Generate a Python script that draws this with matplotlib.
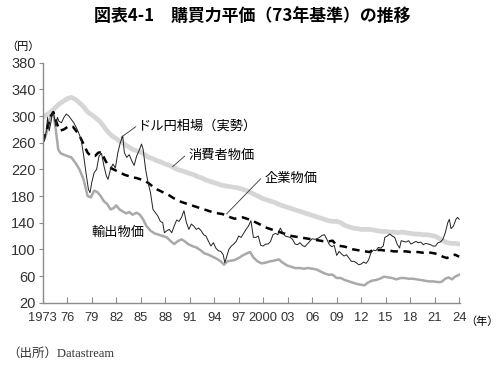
#!/usr/bin/env python3
"""購買力平価（73年基準）の推移 chart."""

import matplotlib

matplotlib.use("Agg")
import matplotlib.pyplot as plt

plt.rcParams["font.family"] = ["Noto Sans CJK JP", "DejaVu Sans"]

# 消費者物価ベース
cpi_years = [1973.0, 1973.5, 1974.0, 1974.5, 1975.0, 1975.5, 1976.0, 1976.5, 1977.0, 1977.5,
             1978.0, 1978.5, 1979.0, 1979.5, 1980.0, 1980.5, 1981.0, 1981.5, 1982.0, 1982.5,
             1983.0, 1983.5, 1984.0, 1984.5, 1985.0, 1985.5, 1986.0, 1986.5, 1987.0, 1987.5,
             1988.0, 1988.5, 1989.0, 1989.5, 1990.0, 1990.5, 1991.0, 1991.5, 1992.0, 1992.5,
             1993.0, 1993.5, 1994.0, 1994.5, 1995.0, 1995.5, 1996.0, 1996.5, 1997.0, 1997.5,
             1998.0, 1998.5, 1999.0, 1999.5, 2000.0, 2000.5, 2001.0, 2001.5, 2002.0, 2002.5,
             2003.0, 2003.5, 2004.0, 2004.5, 2005.0, 2005.5, 2006.0, 2006.5, 2007.0, 2007.5,
             2008.0, 2008.5, 2009.0, 2009.5, 2010.0, 2010.5, 2011.0, 2011.5, 2012.0, 2012.5,
             2013.0, 2013.5, 2014.0, 2014.5, 2015.0, 2015.5, 2016.0, 2016.5, 2017.0, 2017.5,
             2018.0, 2018.5, 2019.0, 2019.5, 2020.0, 2020.5, 2021.0, 2021.5, 2022.0, 2022.5,
             2023.0, 2023.5, 2024.0]
cpi_values = [298, 302, 306, 312, 318, 322, 326, 328, 325, 320,
              314, 306, 302, 297, 292, 284, 276, 270, 266, 262,
              258, 254, 250, 248, 246, 242, 238, 236, 233, 231,
              228, 226, 223, 220, 218, 216, 214, 212, 209, 207,
              204, 202, 200, 198, 196, 195, 194, 193, 192, 190,
              188, 185, 182, 179, 176, 174, 172, 170, 167, 165,
              163, 161, 159, 157, 155, 153, 151, 149, 147, 145,
              143, 142, 142, 140, 136, 134, 132, 131, 130, 130,
              130, 129, 128, 127, 127, 126, 126, 125, 126, 125,
              124, 123, 123, 122, 122, 121, 120, 117, 113, 110,
              109, 109, 108]

# 企業物価ベース
cgpi_years = [1973.0, 1973.5, 1974.0, 1974.3, 1974.7, 1975.1, 1975.6, 1976.2, 1976.7, 1977.2,
              1977.6, 1978.0, 1978.5, 1978.9, 1979.4, 1979.8, 1980.2, 1980.6, 1981.0, 1981.5,
              1982.0, 1982.5, 1983.0, 1983.5, 1984.0, 1984.5, 1985.0, 1985.5, 1986.0, 1986.5,
              1987.0, 1987.5, 1988.0, 1988.5, 1989.0, 1989.5, 1990.0, 1990.5, 1991.0, 1991.5,
              1992.0, 1992.5, 1993.0, 1993.5, 1994.0, 1994.5, 1995.0, 1995.5, 1996.0, 1996.5,
              1997.0, 1997.5, 1998.0, 1998.5, 1999.0, 1999.5, 2000.0, 2000.5, 2001.0, 2001.5,
              2002.0, 2002.5, 2003.0, 2003.5, 2004.0, 2004.5, 2005.0, 2005.5, 2006.0, 2006.5,
              2007.0, 2007.5, 2008.0, 2008.5, 2009.0, 2009.5, 2010.0, 2010.5, 2011.0, 2011.5,
              2012.0, 2012.5, 2013.0, 2013.3, 2013.7, 2014.0, 2014.5, 2015.0, 2015.5, 2016.0,
              2016.5, 2017.0, 2017.5, 2018.0, 2018.5, 2019.0, 2019.5, 2020.0, 2020.5, 2021.0,
              2021.5, 2022.0, 2022.5, 2023.0, 2023.5, 2024.0]
cgpi_values = [262, 280, 300, 306, 290, 278, 280, 285, 284, 276,
               268, 258, 245, 240, 240, 245, 246, 235, 226, 221,
               218, 215, 212, 210, 208, 207, 205, 203, 199, 194,
               190, 187, 184, 181, 177, 174, 171, 169, 167, 165,
               163, 161, 159, 157, 155, 154, 153, 151, 148, 146,
               147, 148, 146, 144, 141, 138, 135, 132, 130, 128,
               126, 124, 122, 120, 119, 118, 117, 116, 115, 114,
               113, 112, 112, 113, 106, 105, 104, 102, 100, 99,
               98, 97, 96, 98, 99, 99, 99, 98, 98, 97,
               97, 97, 97, 96, 96, 96, 95, 96, 95, 94,
               92, 89, 87, 90, 92, 89]

# ドル円相場（実勢）
yen_years = [1973.0, 1973.2, 1973.4, 1973.6, 1973.8, 1974.0, 1974.2, 1974.4, 1974.6, 1974.8,
             1975.0, 1975.3, 1975.6, 1975.9, 1976.2, 1976.5, 1976.8, 1977.1, 1977.4, 1977.7,
             1978.0, 1978.3, 1978.6, 1978.8, 1979.0, 1979.3, 1979.6, 1979.9, 1980.2, 1980.5,
             1980.8, 1981.0, 1981.3, 1981.6, 1981.9, 1982.2, 1982.5, 1982.8, 1983.0, 1983.3,
             1983.6, 1983.9, 1984.2, 1984.5, 1984.8, 1985.1, 1985.3, 1985.6, 1985.9, 1986.2,
             1986.5, 1986.8, 1987.1, 1987.4, 1987.7, 1987.9, 1988.2, 1988.5, 1988.8, 1989.1,
             1989.4, 1989.7, 1990.0, 1990.3, 1990.6, 1990.9, 1991.2, 1991.5, 1991.8, 1992.1,
             1992.4, 1992.7, 1993.0, 1993.3, 1993.6, 1993.9, 1994.2, 1994.5, 1994.8, 1995.1,
             1995.3, 1995.5, 1995.8, 1996.1, 1996.4, 1996.7, 1997.0, 1997.3, 1997.6, 1997.9,
             1998.2, 1998.5, 1998.8, 1999.1, 1999.4, 1999.7, 2000.0, 2000.3, 2000.6, 2000.9,
             2001.2, 2001.5, 2001.8, 2002.1, 2002.4, 2002.7, 2003.0, 2003.3, 2003.6, 2003.9,
             2004.2, 2004.5, 2004.8, 2005.1, 2005.4, 2005.7, 2006.0, 2006.3, 2006.6, 2006.9,
             2007.2, 2007.5, 2007.8, 2008.1, 2008.4, 2008.7, 2009.0, 2009.3, 2009.6, 2009.9,
             2010.2, 2010.5, 2010.8, 2011.1, 2011.4, 2011.7, 2012.0, 2012.3, 2012.6, 2012.9,
             2013.2, 2013.5, 2013.8, 2014.1, 2014.4, 2014.7, 2014.9, 2015.2, 2015.5, 2015.8,
             2016.1, 2016.4, 2016.7, 2016.9, 2017.2, 2017.5, 2017.8, 2018.1, 2018.4, 2018.7,
             2019.0, 2019.3, 2019.6, 2019.9, 2020.2, 2020.5, 2020.8, 2021.1, 2021.4, 2021.7,
             2022.0, 2022.3, 2022.6, 2022.8, 2023.0, 2023.3, 2023.6, 2023.8, 2024.0]
yen_values = [265, 262, 275, 298, 278, 290, 305, 300, 285, 298,
              292, 290, 298, 303, 300, 295, 290, 283, 275, 265,
              242, 215, 190, 185, 200, 215, 220, 240, 244, 225,
              210, 205, 220, 228, 222, 245, 260, 270, 245, 238,
              242, 233, 226, 240, 248, 258, 250, 220, 200, 185,
              160, 155, 150, 142, 140, 125, 128, 130, 125, 135,
              144, 142, 148, 158, 140, 130, 138, 135, 130, 132,
              128, 122, 120, 112, 105, 110, 102, 98, 97, 92,
              80, 88, 100, 105, 108, 112, 120, 118, 124, 130,
              135, 143, 118, 118, 120, 106, 105, 108, 108, 112,
              122, 124, 122, 132, 125, 120, 119, 118, 115, 108,
              107, 110, 106, 104, 108, 112, 116, 115, 116, 118,
              121, 122, 115, 107, 104, 106, 91, 97, 93, 90,
              92, 87, 82, 82, 80, 77, 78, 81, 79, 84,
              95, 99, 98, 103, 102, 105, 118, 120, 123, 120,
              118, 108, 102, 113, 112, 111, 113, 108, 110, 112,
              110, 111, 107, 109, 108, 107, 105, 105, 110, 111,
              115, 125, 140, 145, 131, 135, 145, 148, 145]

# 輸出物価ベース
export_years = [1973.0, 1973.3, 1973.7, 1974.0, 1974.3, 1974.6, 1974.9, 1975.2, 1975.6, 1976.0,
                1976.5, 1977.0, 1977.5, 1978.0, 1978.5, 1978.9, 1979.3, 1979.7, 1980.1, 1980.5,
                1980.9, 1981.3, 1981.7, 1982.0, 1982.4, 1982.8, 1983.2, 1983.6, 1984.0, 1984.5,
                1984.9, 1985.3, 1985.7, 1986.2, 1986.7, 1987.2, 1987.7, 1988.2, 1988.7, 1989.1,
                1989.5, 1990.0, 1990.4, 1990.8, 1991.3, 1991.8, 1992.3, 1992.8, 1993.3, 1993.8,
                1994.3, 1994.8, 1995.2, 1995.6, 1996.0, 1996.5, 1997.0, 1997.5, 1998.0, 1998.4,
                1998.8, 1999.3, 1999.8, 2000.3, 2000.8, 2001.3, 2001.9, 2002.4, 2002.9, 2003.4,
                2003.9, 2004.5, 2005.0, 2005.5, 2006.0, 2006.5, 2007.0, 2007.5, 2008.0, 2008.5,
                2009.0, 2009.5, 2010.0, 2010.5, 2011.0, 2011.5, 2012.0, 2012.4, 2012.8, 2013.3,
                2013.8, 2014.3, 2014.8, 2015.3, 2015.8, 2016.3, 2016.8, 2017.3, 2017.8, 2018.3,
                2018.8, 2019.3, 2019.8, 2020.3, 2020.8, 2021.3, 2021.8, 2022.3, 2022.7, 2023.1,
                2023.5, 2024.0]
export_values = [262, 268, 285, 300, 305, 280, 250, 244, 242, 240,
                 238, 230, 220, 205, 180, 178, 188, 186, 180, 172,
                 168, 160, 162, 166, 160, 157, 154, 156, 152, 155,
                 152, 145, 135, 128, 124, 122, 120, 118, 112, 108,
                 112, 115, 112, 108, 105, 103, 99, 94, 92, 89,
                 86, 82, 77, 82, 83, 84, 87, 91, 94, 96,
                 88, 82, 79, 80, 82, 83, 85, 80, 76, 74,
                 72, 72, 71, 72, 71, 70, 67, 64, 62, 62,
                 57, 57, 54, 52, 50, 48, 47, 46, 50, 53,
                 54, 56, 59, 58, 57, 55, 57, 57, 56, 56,
                 55, 54, 53, 52, 52, 51, 51, 56, 58, 55,
                 59, 62]

x_ticks = list(range(1973, 2025, 3))
x_labels = ["1973", "76", "79", "82", "85", "88", "91", "94", "97", "2000",
            "03", "06", "09", "12", "15", "18", "21", "24"]
y_ticks = list(range(20, 381, 40))

fig = plt.figure(figsize=(5.0, 3.84), dpi=100)
ax = fig.add_axes([0.0854, 0.2117, 0.8346, 0.625])

ax.plot(cpi_years, cpi_values, color="#d6d6d6", linewidth=3.4, solid_joinstyle="round")
ax.plot(export_years, export_values, color="#a9a9a9", linewidth=1.8)
ax.plot(cgpi_years, cgpi_values, color="black", linewidth=1.8, dashes=(3.0, 2.2))
ax.plot(yen_years, yen_values, color="#222222", linewidth=0.7)

ax.set_xlim(1973, 2024.1)
ax.set_ylim(20, 380)
ax.set_xticks(x_ticks)
ax.set_xticklabels(x_labels, family="Liberation Sans")
ax.set_yticks(y_ticks)
ax.set_yticklabels([str(v) for v in y_ticks], family="Liberation Sans")

for side in ["top", "right"]:
    ax.spines[side].set_visible(False)
for side in ["left", "bottom"]:
    ax.spines[side].set_color("#8c8c8c")
    ax.spines[side].set_linewidth(1.0)
ax.tick_params(axis="x", direction="in", length=4, color="#8c8c8c", labelsize=9.3,
               pad=7, labelcolor="#333333")
ax.tick_params(axis="y", direction="out", length=3, color="#8c8c8c", labelsize=10.5,
               pad=2, labelcolor="#333333")

line_kw = dict(arrowstyle="-", color="#333333", lw=0.6, shrinkA=0, shrinkB=0)
ax.annotate("", xy=(1982.6, 268), xytext=(1984.4, 284), arrowprops=line_kw)
ax.text(1984.6, 285, "ドル円相場（実勢）", fontsize=9.5, ha="left", va="center")
ax.annotate("", xy=(1988.9, 224), xytext=(1990.4, 240), arrowprops=line_kw)
ax.text(1990.8, 241, "消費者物価", fontsize=9.5, ha="left", va="center")
ax.annotate("", xy=(1995.5, 153), xytext=(1999.7, 206), arrowprops=line_kw)
ax.text(2000.2, 207, "企業物価", fontsize=9.5, ha="left", va="center")
ax.text(1979.0, 126, "輸出物価", fontsize=9.5, ha="left", va="center")

fig.text(0.505, 1 - 16 / 384, "図表4-1　購買力平価（73年基準）の推移", fontsize=12.2,
         fontweight="bold", ha="center", va="center")
fig.text(0.012, 1 - 47 / 384, "（円）", fontsize=8, ha="left", va="center")
fig.text(0.930, 1 - 322 / 384, "（年）", fontsize=8, ha="left", va="center")
fig.text(0.014, 1 - 354 / 384, "（出所）Datastream", fontsize=9, ha="left", va="center",
         family=["Liberation Serif", "Noto Sans CJK JP"], color="#333333")

fig.savefig("out.png", dpi=100)
